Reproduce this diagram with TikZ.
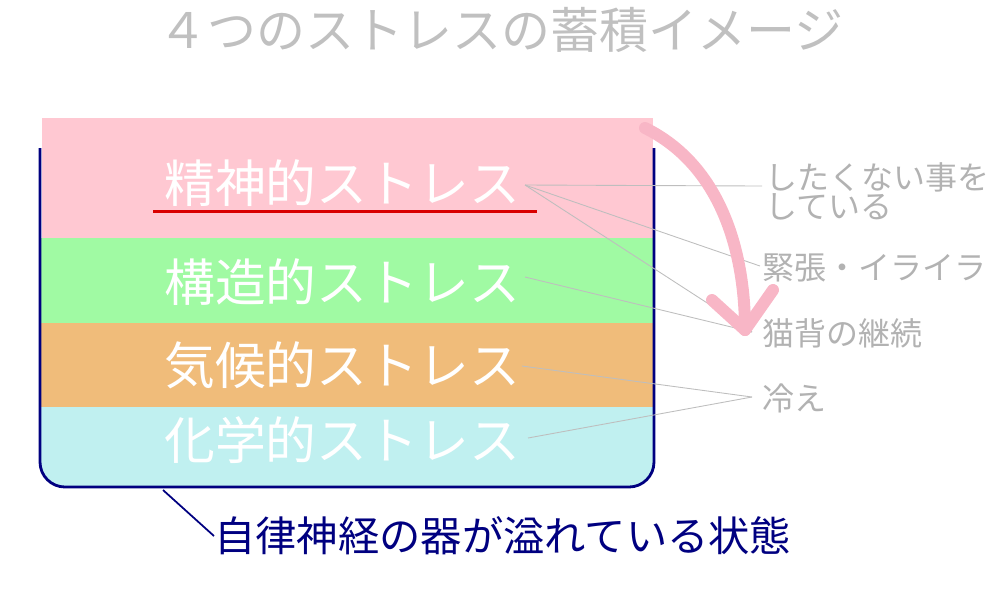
\documentclass[tikz,border=0pt]{standalone}
\usepackage{fontspec}
\setmainfont{Noto Sans CJK JP}
\definecolor{layerpink}{RGB}{255,200,210}
\definecolor{layergreen}{RGB}{160,250,163}
\definecolor{layerorange}{RGB}{240,188,122}
\definecolor{layercyan}{RGB}{192,240,240}
\definecolor{vesselnavy}{RGB}{0,0,128}
\definecolor{labelgray}{RGB}{178,178,178}
\definecolor{titlegray}{RGB}{192,192,192}
\definecolor{leadergray}{RGB}{190,190,190}
\definecolor{arrowpink}{RGB}{248,182,198}

\begin{document}
\begin{tikzpicture}[x=0.02cm,y=-0.02cm,
	layertext/.style={text=white,font=\fontsize{28.9}{30}\selectfont,anchor=west,inner sep=0pt},
	sidetext/.style={text=labelgray,font=\fontsize{18.2}{16.5}\selectfont,anchor=west,inner sep=0pt,align=left},
	leader/.style={draw=leadergray,line width=0.5pt}]
			%%%%% START %%%%%
			\useasboundingbox (0, 0) rectangle (1000, 600);
			
			\node[text=titlegray, font=\fontsize{27.9}{29}\selectfont, anchor=west, inner sep=0pt] (title) at (158, 30) {４つのストレスの蓄積イメージ};
			
			% layers
			\fill[layerpink] (42, 118) rectangle (653, 238);
			\fill[layergreen] (40, 238) rectangle (653, 323);
			\fill[layerorange] (40, 323) rectangle (653, 407);
			\fill[layercyan] (40, 407) [rounded corners=0.5cm] -- (40, 487) -- (654, 487) [sharp corners] -- (654, 407) -- cycle;
			
			% vessel
			\draw[vesselnavy, line width=1.6pt, rounded corners=0.5cm] (40, 148) -- (40, 487) -- (654, 487) -- (654, 148);
			
			\node[layertext] (seishin) at (164, 183) {精神的ストレス};
			\node[layertext] (kouzou) at (164, 282) {構造的ストレス};
			\node[layertext] (kikou) at (164, 365) {気候的ストレス};
			\node[layertext] (kagaku) at (164, 440) {化学的ストレス};
			\draw[red!85!black, line width=0.06cm] (153, 211) -- (537, 211);
			
			\node[sidetext] (shitakunai) at (765, 191) {したくない事を\\している};
			\node[sidetext] (kinchou) at (762, 268) {緊張・イライラ};
			\node[sidetext] (nekoze) at (762, 333) {猫背の継続};
			\node[sidetext] (hie) at (762, 398) {冷え};
			
			% leaders
			\coordinate (seishinEnd) at (525, 185);
			\coordinate (kouzouEnd) at (525, 277);
			\coordinate (kikouEnd) at (522, 366);
			\coordinate (kagakuEnd) at (528, 438);
			\coordinate (shitakunaiIn) at (762, 186);
			\coordinate (kinchouIn) at (760, 266);
			\coordinate (nekozeIn) at (752, 332);
			\coordinate (hieIn) at (752, 397);
			\draw[leader] (seishinEnd) -- (shitakunaiIn);
			\draw[leader] (seishinEnd) -- (kinchouIn);
			\draw[leader] (seishinEnd) -- (nekozeIn);
			\draw[leader] (kouzouEnd) -- (nekozeIn);
			\draw[leader] (kikouEnd) -- (hieIn);
			\draw[leader] (kagakuEnd) -- (hieIn);
			
			% overflow arrow
			\coordinate (flowStart) at (645, 128);
			\coordinate (flowTip) at (745, 330);
			\draw[arrowpink, line width=0.24cm, line cap=round] (flowStart) .. controls (720, 165) and (745, 250) .. (flowTip);
			\draw[arrowpink, line width=0.24cm, line cap=round, line join=round] (712, 300) -- (flowTip) -- (773, 290);
			
			% bottom caption
			\node[text=vesselnavy, font=\fontsize{23.5}{25}\selectfont, anchor=west, inner sep=0pt] (utsuwa) at (214, 536) {自律神経の器が溢れている状態};
			\coordinate (vesselBottom) at (163, 490);
			\draw[vesselnavy, line width=1pt] (vesselBottom) -- (utsuwa.west);
			
			%%%%% END %%%%%
\end{tikzpicture}
\end{document}
